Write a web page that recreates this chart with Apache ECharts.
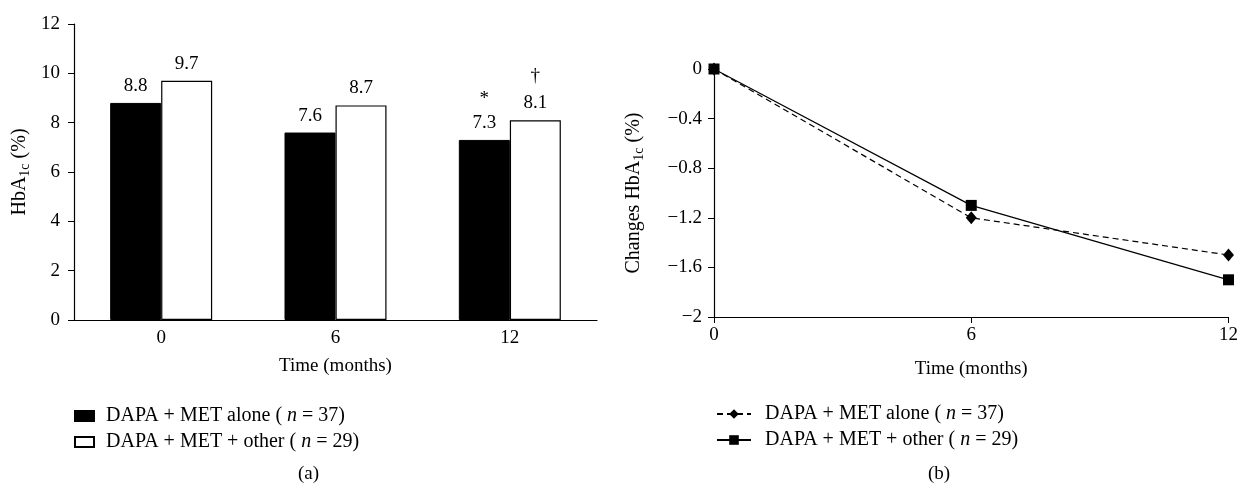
<!DOCTYPE html>
<html>
<head>
<meta charset="utf-8">
<script src="https://cdn.jsdelivr.net/npm/echarts@6/dist/echarts.min.js"></script>
<style>
  html, body { margin: 0; padding: 0; background: #fff; }
  #chart { width: 1241px; height: 489px; }
</style>
</head>
<body>
<div id="chart"></div>
<script>
// panel (a): HbA1c by visit
const months = ['0', '6', '12']
const groupNames = ['DAPA + MET alone', 'DAPA + MET + other']
const groupN = [37, 29]
const hbaAlone = [8.8, 7.6, 7.3]
const hbaOther = [9.7, 8.7, 8.1]
const marksAlone = ['', '', '*']
const marksOther = ['', '', '\u2020']

// panel (b): change from baseline
const monthValues = [0, 6, 12]
const changeAlone = [0, -1.2, -1.5]
const changeOther = [0, -1.1, -1.7]

const FONT = "'Liberation Serif', 'DejaVu Serif', serif"
const FS = 19
const FS_BIG = 20
const INK = '#000'

let myChart = echarts.init(document.getElementById('chart'))

function legendText (name) {
  let i = groupNames.indexOf(name)
  return '{t|' + name + ' ( }{i|n}{t| = ' + groupN[i] + ')}'
}

function barLabel (marks) {
  return function (p) {
    let m = marks[p.dataIndex]
    let v = p.value.toFixed(1)
    return m ? '{m|' + m + '}\n' + v : v
  }
}

function minusFmt (v) {
  if (v === 0) return '0'
  return (v < 0 ? '\u2212' : '') + String(+Math.abs(v).toFixed(1))
}

const subStyle = {
  s: { fontFamily: FONT, fontSize: 14, color: INK, padding: [10, 0, 0, 0] }
}

const legendTextStyle = (padLeft) => ({
  fontFamily: FONT,
  fontSize: FS_BIG,
  color: INK,
  lineHeight: 20,
  padding: [0, 0, 0, padLeft],
  rich: {
    t: { fontFamily: FONT, fontSize: FS_BIG, color: INK },
    i: { fontFamily: FONT, fontSize: FS_BIG, fontStyle: 'italic', color: INK }
  }
})

myChart.setOption({
  backgroundColor: '#fff',
  animation: false,
  textStyle: { fontFamily: FONT, color: INK },
  grid: [
    { left: 74, right: 644, top: 24, bottom: 169 },
    { left: 714, right: 12, top: 69, bottom: 172 }
  ],
  legend: [
    {
      data: groupNames,
      orient: 'vertical',
      left: 69,
      top: 401,
      icon: 'rect',
      itemWidth: 19,
      itemHeight: 10,
      itemGap: 6,
      selectedMode: false,
      formatter: legendText,
      textStyle: legendTextStyle(7)
    },
    {
      data: ['alone-b', 'other-b'],
      orient: 'vertical',
      left: 711,
      top: 399,
      itemWidth: 34,
      itemHeight: 12,
      itemGap: 6,
      selectedMode: false,
      formatter: function (name) {
        return legendText(name === 'alone-b' ? groupNames[0] : groupNames[1])
      },
      textStyle: legendTextStyle(9)
    }
  ],
  graphic: [
    { type: 'text', left: 298, top: 465, style: { text: '(a)', font: FS + 'px ' + FONT, fill: INK } },
    { type: 'text', left: 928, top: 465, style: { text: '(b)', font: FS + 'px ' + FONT, fill: INK } }
  ],
  xAxis: [
    {
      gridIndex: 0,
      type: 'category',
      data: months,
      axisLine: { lineStyle: { color: INK, width: 1.2 } },
      axisTick: { show: false },
      axisLabel: { color: INK, fontFamily: FONT, fontSize: FS, margin: 9 },
      name: 'Time (months)',
      nameLocation: 'middle',
      nameGap: 37,
      nameTextStyle: { color: INK, fontFamily: FONT, fontSize: FS }
    },
    {
      gridIndex: 1,
      type: 'value',
      min: 0,
      max: 12,
      interval: 6,
      splitLine: { show: false },
      axisLine: { onZero: false, lineStyle: { color: INK, width: 1.2 } },
      axisTick: { length: 6, lineStyle: { color: INK } },
      axisLabel: { color: INK, fontFamily: FONT, fontSize: FS, margin: 9 },
      name: 'Time (months)',
      nameLocation: 'middle',
      nameGap: 43,
      nameTextStyle: { color: INK, fontFamily: FONT, fontSize: FS }
    }
  ],
  yAxis: [
    {
      gridIndex: 0,
      type: 'value',
      min: 0,
      max: 12,
      interval: 2,
      splitLine: { show: false },
      axisLine: { show: true, lineStyle: { color: INK, width: 1.2 } },
      axisTick: { show: true, length: 6, lineStyle: { color: INK } },
      axisLabel: { color: INK, fontFamily: FONT, fontSize: FS, margin: 14 },
      name: 'HbA{s|1c} (%)',
      nameLocation: 'middle',
      nameRotate: 90,
      nameGap: 42,
      nameTextStyle: { color: INK, fontFamily: FONT, fontSize: FS_BIG, rich: subStyle }
    },
    {
      gridIndex: 1,
      type: 'value',
      min: -2,
      max: 0,
      interval: 0.4,
      splitLine: { show: false },
      axisLine: { show: true, onZero: false, lineStyle: { color: INK, width: 1.2 } },
      axisTick: { show: true, length: 6, lineStyle: { color: INK } },
      axisLabel: { color: INK, fontFamily: FONT, fontSize: FS, margin: 12, formatter: minusFmt },
      name: 'Changes HbA{s|1c} (%)',
      nameLocation: 'middle',
      nameRotate: 90,
      nameGap: 68,
      nameTextStyle: { color: INK, fontFamily: FONT, fontSize: FS_BIG, rich: subStyle }
    }
  ],
  series: [
    {
      name: groupNames[0],
      type: 'bar',
      xAxisIndex: 0,
      yAxisIndex: 0,
      data: hbaAlone,
      barWidth: 51,
      barGap: '0%',
      itemStyle: { color: INK, borderColor: INK, borderWidth: 1 },
      label: {
        show: true,
        position: 'top',
        distance: 6,
        color: INK,
        fontFamily: FONT,
        fontSize: FS,
        lineHeight: 22,
        formatter: barLabel(marksAlone),
        rich: { m: { fontFamily: FONT, fontSize: FS, color: INK, lineHeight: 26 } }
      }
    },
    {
      name: groupNames[1],
      type: 'bar',
      xAxisIndex: 0,
      yAxisIndex: 0,
      data: hbaOther,
      barWidth: 51,
      barGap: '0%',
      itemStyle: { color: '#fff', borderColor: INK, borderWidth: 1.2 },
      label: {
        show: true,
        position: 'top',
        distance: 6,
        color: INK,
        fontFamily: FONT,
        fontSize: FS,
        lineHeight: 22,
        formatter: barLabel(marksOther),
        rich: { m: { fontFamily: FONT, fontSize: FS, color: INK, lineHeight: 32 } }
      }
    },
    {
      name: 'alone-b',
      type: 'line',
      xAxisIndex: 1,
      yAxisIndex: 1,
      data: monthValues.map((m, i) => [m, changeAlone[i]]),
      symbol: 'diamond',
      symbolSize: [11, 13],
      itemStyle: { color: INK },
      lineStyle: { color: INK, width: 1.2, type: [6, 4] }
    },
    {
      name: 'other-b',
      type: 'line',
      xAxisIndex: 1,
      yAxisIndex: 1,
      data: monthValues.map((m, i) => [m, changeOther[i]]),
      symbol: 'rect',
      symbolSize: 11,
      itemStyle: { color: INK },
      lineStyle: { color: INK, width: 1.2 }
    }
  ]
})

window.addEventListener('resize', () => {
  myChart.resize()
})
</script>
</body>
</html>
